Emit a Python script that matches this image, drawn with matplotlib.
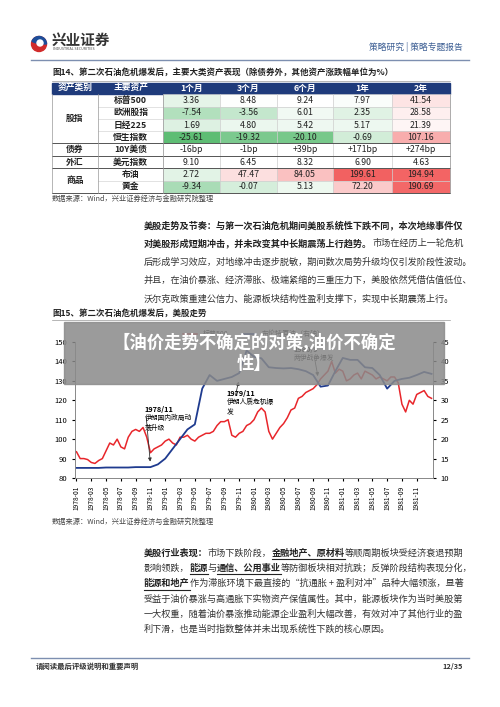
import matplotlib
matplotlib.use('Agg')
import matplotlib.pyplot as plt
from matplotlib.patches import Rectangle, Circle, Wedge
import numpy as np

plt.rcParams['font.family'] = ['Noto Sans CJK SC', 'DejaVu Sans']

# ---- table data ----
col_heads = ['资产类别', '主要资产', '1个月', '3个月', '6个月', '1年', '2年']
categories = ['股指', '债券', '外汇', '商品']
cat_spans = [4, 1, 1, 2]
assets = ['标普500', '欧洲股指', '日经225', '恒生指数', '10Y美债', '美元指数', '布油', '黄金']
values = [
    [3.36, 8.48, 9.24, 7.97, 41.54],
    [-7.54, -3.56, 6.01, 2.35, 28.58],
    [1.69, 4.80, 5.42, 5.17, 21.39],
    [-25.61, -19.32, -20.10, -0.69, 107.16],
    [-16, -1, 39, 171, 274],
    [9.10, 6.45, 8.32, 6.90, 4.63],
    [2.72, 47.47, 84.05, 199.61, 194.94],
    [-9.34, -0.07, 5.13, 72.20, 190.69],
]
bond_row = 4
fx_row = 5

# ---- chart data ----
spx_x = np.arange(0, 48.5, 0.5)
spx = [93.5, 90, 90, 89.5, 88, 87.5, 89, 90, 94, 98, 97, 100, 96, 95, 101, 104, 105, 104, 106, 101, 93, 95, 96, 97,
       99, 100, 98, 97, 101, 101, 102, 100, 99, 101, 102, 103, 103, 104, 107, 109, 109, 110, 102, 101, 103, 104, 107, 108,
       110, 114, 116, 114, 104, 100, 103, 106, 108, 111, 115, 116, 121, 122, 124, 125, 126, 128, 131, 133, 135, 140, 134, 136,
       135, 130, 131, 133, 134, 131, 135, 134, 133, 131, 132, 131, 130, 132, 132, 129, 118, 114, 120, 118, 123, 124, 125, 122, 121]
oil_x = np.arange(0, 49)
oil = [12.6, 12.6, 12.6, 12.6, 12.7, 12.7, 12.7, 12.7, 12.8, 12.8, 12.8, 13.5, 15, 17.5, 20, 22.5, 23.8, 33, 36.5, 35,
       35.5, 36, 37, 42.8, 41.2, 40.8, 38.5, 38.3, 38.2, 38.3, 38, 37.5, 36.5, 33.5, 33.8, 37.5, 40.9, 40.4, 40.4, 38.5,
       38.3, 36.5, 33, 35, 35.5, 35.8, 36.5, 37.3, 36.8]
tick_pos = np.arange(0, 47, 2)
tick_labels = [f'{1978 + p // 12}-{p % 12 + 1:02d}' for p in tick_pos]

fig = plt.figure(figsize=(5, 7.07), dpi=100)
bg = fig.add_axes([0, 0, 1, 1])
bg.set_xlim(0, 500)
bg.set_ylim(707, 0)
bg.axis('off')
renderer = fig.canvas.get_renderer()

DARK = '#222222'


def text_line(x, y, parts, size=6.6):
    # parts: (text, bold, underline)
    for txt, bold, ul in parts:
        t = bg.text(x, y, txt, fontsize=size, fontweight='bold' if bold else 'normal',
                    color=DARK if bold else '#333333', va='center', ha='left')
        w = t.get_window_extent(renderer).width
        if ul:
            bg.plot([x, x + w], [y + 6, y + 6], color=DARK, lw=0.8)
        x += w


# header
bg.add_patch(Circle((39, 44), 7.5, color='#d12b2b'))
bg.add_patch(Wedge((39, 44), 7.5, 200, 360, color='#1d4e9a'))
bg.add_patch(Circle((40, 43), 3, color='white'))
bg.text(52, 40, '兴业证券', fontsize=10.5, fontweight='bold', color='#333333', va='center')
bg.text(53, 48.5, 'INDUSTRIAL SECURITIES', fontsize=2.6, color='#444444', va='center')
bg.text(463, 47, '策略研究 | 策略专题报告', fontsize=6.3, color='#3d5f94', va='center', ha='right')
bg.plot([31, 469], [59.5, 59.5], color='#7d8fb0', lw=1)

# figure 14 table
bg.text(52, 72, '图14、第二次石油危机爆发后，主要大类资产表现（除债券外，其他资产涨跌幅单位为%）',
        fontsize=6.1, fontweight='bold', color=DARK, va='center')
bg.plot([52, 450], [81, 81], color='#999999', lw=0.5)
xs = [52, 98, 163, 220, 277, 333, 392, 450]
ys = [83, 94.3, 106.7, 119, 131.3, 143.3, 156, 168.3, 180.7, 192.7]
bg.add_patch(Rectangle((xs[0], ys[0]), xs[-1] - xs[0], ys[1] - ys[0], color='#1f3b7b'))
for j, h in enumerate(col_heads):
    bg.text((xs[j] + xs[j + 1]) / 2, (ys[0] + ys[1]) / 2, h, color='white', fontsize=6.3,
            fontweight='bold', ha='center', va='center')


def cell_color(v):
    if v < 9:
        a = min((9 - v) / 35, 1)
        c0, c1 = np.array([1, 1, 1]), np.array([0.36, 0.74, 0.45])
    else:
        a = min((v - 9) / 190, 1)
        c0, c1 = np.array([1, 1, 1]), np.array([0.95, 0.38, 0.38])
    return tuple(c0 + (c1 - c0) * a)


for i, (name, row) in enumerate(zip(assets, values)):
    y0, y1 = ys[i + 1], ys[i + 2]
    bg.text((xs[1] + xs[2]) / 2, (y0 + y1) / 2, name, fontsize=6.3, fontweight='bold',
            color=DARK, ha='center', va='center')
    for j, v in enumerate(row):
        if i == bond_row:
            s, fc = (f'+{v}bp' if v > 0 else f'{v}bp'), 'white'
        elif i == fx_row:
            s, fc = f'{v:.2f}', 'white'
        else:
            s, fc = f'{v:.2f}', cell_color(v)
        bg.add_patch(Rectangle((xs[j + 2], y0), xs[j + 3] - xs[j + 2], y1 - y0, facecolor=fc,
                               edgecolor='#cccccc', lw=0.4))
        bg.text((xs[j + 2] + xs[j + 3]) / 2, (y0 + y1) / 2, s, fontsize=6.3, color=DARK,
                ha='center', va='center')
    bg.plot([xs[1], xs[2]], [y1, y1], color='#cccccc', lw=0.4)
r = 0
for c, n in zip(categories, cat_spans):
    y0, y1 = ys[r + 1], ys[r + 1 + n]
    bg.text((xs[0] + xs[1]) / 2, (y0 + y1) / 2, c, fontsize=6.3, fontweight='bold',
            color=DARK, ha='center', va='center')
    bg.plot([xs[0], xs[-1]], [y1, y1], color='#555555', lw=0.7)
    r += n
for x in xs[1:3]:
    bg.plot([x, x], [ys[1], ys[-1]], color='#999999', lw=0.5)
bg.plot([xs[0], xs[0]], [ys[1], ys[-1]], color='#999999', lw=0.5)
bg.plot([xs[-1], xs[-1]], [ys[1], ys[-1]], color='#999999', lw=0.5)
bg.text(52, 199, '数据来源：Wind，兴业证券经济与金融研究院整理', fontsize=5.2, color='#444444', va='center')

# paragraph 1
p1 = [
    [('美股走势及节奏：与第一次石油危机期间美股系统性下跌不同，本次地缘事件仅', True, False)],
    [('对美股形成短期冲击，并未改变其中长期震荡上行趋势。', True, False), ('市场在经历上一轮危机', False, False)],
    [('后形成学习效应，对地缘冲击逐步脱敏，期间数次局势升级均仅引发阶段性波动。', False, False)],
    [('并且，在油价暴涨、经济滞胀、极端紧缩的三重压力下，美股依然凭借估值低位、', False, False)],
    [('沃尔克政策重建公信力、能源板块结构性盈利支撑下，实现中长期震荡上行。', False, False)],
]
for k, parts in enumerate(p1):
    text_line(144, 225 + k * 18.5, parts)

# figure 15 chart
bg.text(52, 313, '图15、第二次石油危机爆发后，美股走势', fontsize=6.1, fontweight='bold', color=DARK, va='center')
bg.plot([52, 450], [320, 320], color='#999999', lw=0.5)
ax = fig.add_axes([75 / 500, 1 - 478 / 707, 358 / 500, 136 / 707])
ax2 = ax.twinx()
ax.plot(spx_x, spx, color='#e8262b', lw=1.1, label='标普500')
ax2.plot(oil_x, oil, color='#1f3b8f', lw=1.3, label='布伦特原油（右轴）')
ax.set_xlim(-0.2, 48.2)
ax.set_ylim(80, 150)
ax2.set_ylim(10, 45)
ax.set_yticks(range(80, 151, 10))
ax2.set_yticks(range(10, 46, 5))
ax.set_xticks(tick_pos)
ax.set_xticklabels(tick_labels, rotation=90, fontsize=4.8)
ax.tick_params(axis='y', labelsize=5.5, length=2)
ax2.tick_params(axis='y', labelsize=5.5, length=2)
ax.tick_params(axis='x', length=2)
for a in (ax, ax2):
    a.spines['top'].set_visible(False)
    for s in ('left', 'right', 'bottom'):
        a.spines[s].set_color('#888888')
        a.spines[s].set_linewidth(0.6)
h1, l1 = ax.get_legend_handles_labels()
h2, l2 = ax2.get_legend_handles_labels()
ax.legend(h1 + h2, l1 + l2, loc='lower center', bbox_to_anchor=(0.5, 0.98), ncol=2, frameon=False, fontsize=5)

ann = dict(arrowstyle='-|>', color='#333333', lw=0.6, mutation_scale=5)
notes = [('1978/11', '伊朗国内政局动\n荡升级', (10, 87), (9.2, 117)),
         ('1979/11', '伊朗人质危机爆\n发', (22, 131), (20.3, 125.5)),
         ('1980/9', '两伊战争爆发', (32.7, 131), (29.3, 148))]
for date, desc, xy, xyt in notes:
    ax2.annotate('', xy=xy, xytext=(xy[0] - 0.6, xyt[1] - 4.5), xycoords=ax.transData,
                 textcoords=ax.transData, arrowprops=ann)
    ax2.text(xyt[0], xyt[1], date, transform=ax.transData, fontsize=5.3, fontweight='bold', va='top')
    ax2.text(xyt[0], xyt[1] - 4.3, desc, transform=ax.transData, fontsize=4.9, va='top', linespacing=1.3)

# overlay banner (own axes so it sits above the chart)
top = fig.add_axes([0, 0, 1, 1])
top.set_xlim(0, 500)
top.set_ylim(707, 0)
top.axis('off')
top.patch.set_visible(False)
top.add_patch(Rectangle((64, 322), 380, 62, color='#8a8a8a', alpha=0.85))
top.text(254, 353, '【油价走势不确定的对策,油价不确定\n性】', fontsize=12.5, fontweight='bold', color='white',
         ha='center', va='center', linespacing=1.15)

bg.text(52, 522, '数据来源：Wind，兴业证券经济与金融研究院整理', fontsize=5.2, color='#444444', va='center')

# paragraph 2
p2 = [
    [('美股行业表现：', True, False), ('市场下跌阶段，', False, False), ('金融地产、原材料', True, True),
     ('等顺周期板块受经济衰退预期', False, False)],
    [('影响领跌，', False, False), ('能源', True, True), ('与', False, False), ('通信、公用事业', True, True),
     ('等防御板块相对抗跌；反弹阶段结构表现分化，', False, False)],
    [('能源和地产', True, True), ('作为滞胀环境下最直接的“抗通胀 + 盈利对冲”品种大幅领涨，显著', False, False)],
    [('受益于油价暴涨与高通胀下实物资产保值属性。其中，能源板块作为当时美股第', False, False)],
    [('一大权重，随着油价暴涨推动能源企业盈利大幅改善，有效对冲了其他行业的盈', False, False)],
    [('利下滑，也是当时指数整体并未出现系统性下跌的核心原因。', False, False)],
]
for k, parts in enumerate(p2):
    text_line(144, 553 + k * 15.3, parts)

# footer
bg.plot([31, 469], [658, 658], color='#7d8fb0', lw=1)
bg.text(36, 666, '请阅读最后评级说明和重要声明', fontsize=5.3, fontweight='bold', color='#333333', va='center')
bg.text(463, 666, '12/35', fontsize=5.3, fontweight='bold', color='#333333', va='center', ha='right')

fig.savefig('out.png', dpi=100)
